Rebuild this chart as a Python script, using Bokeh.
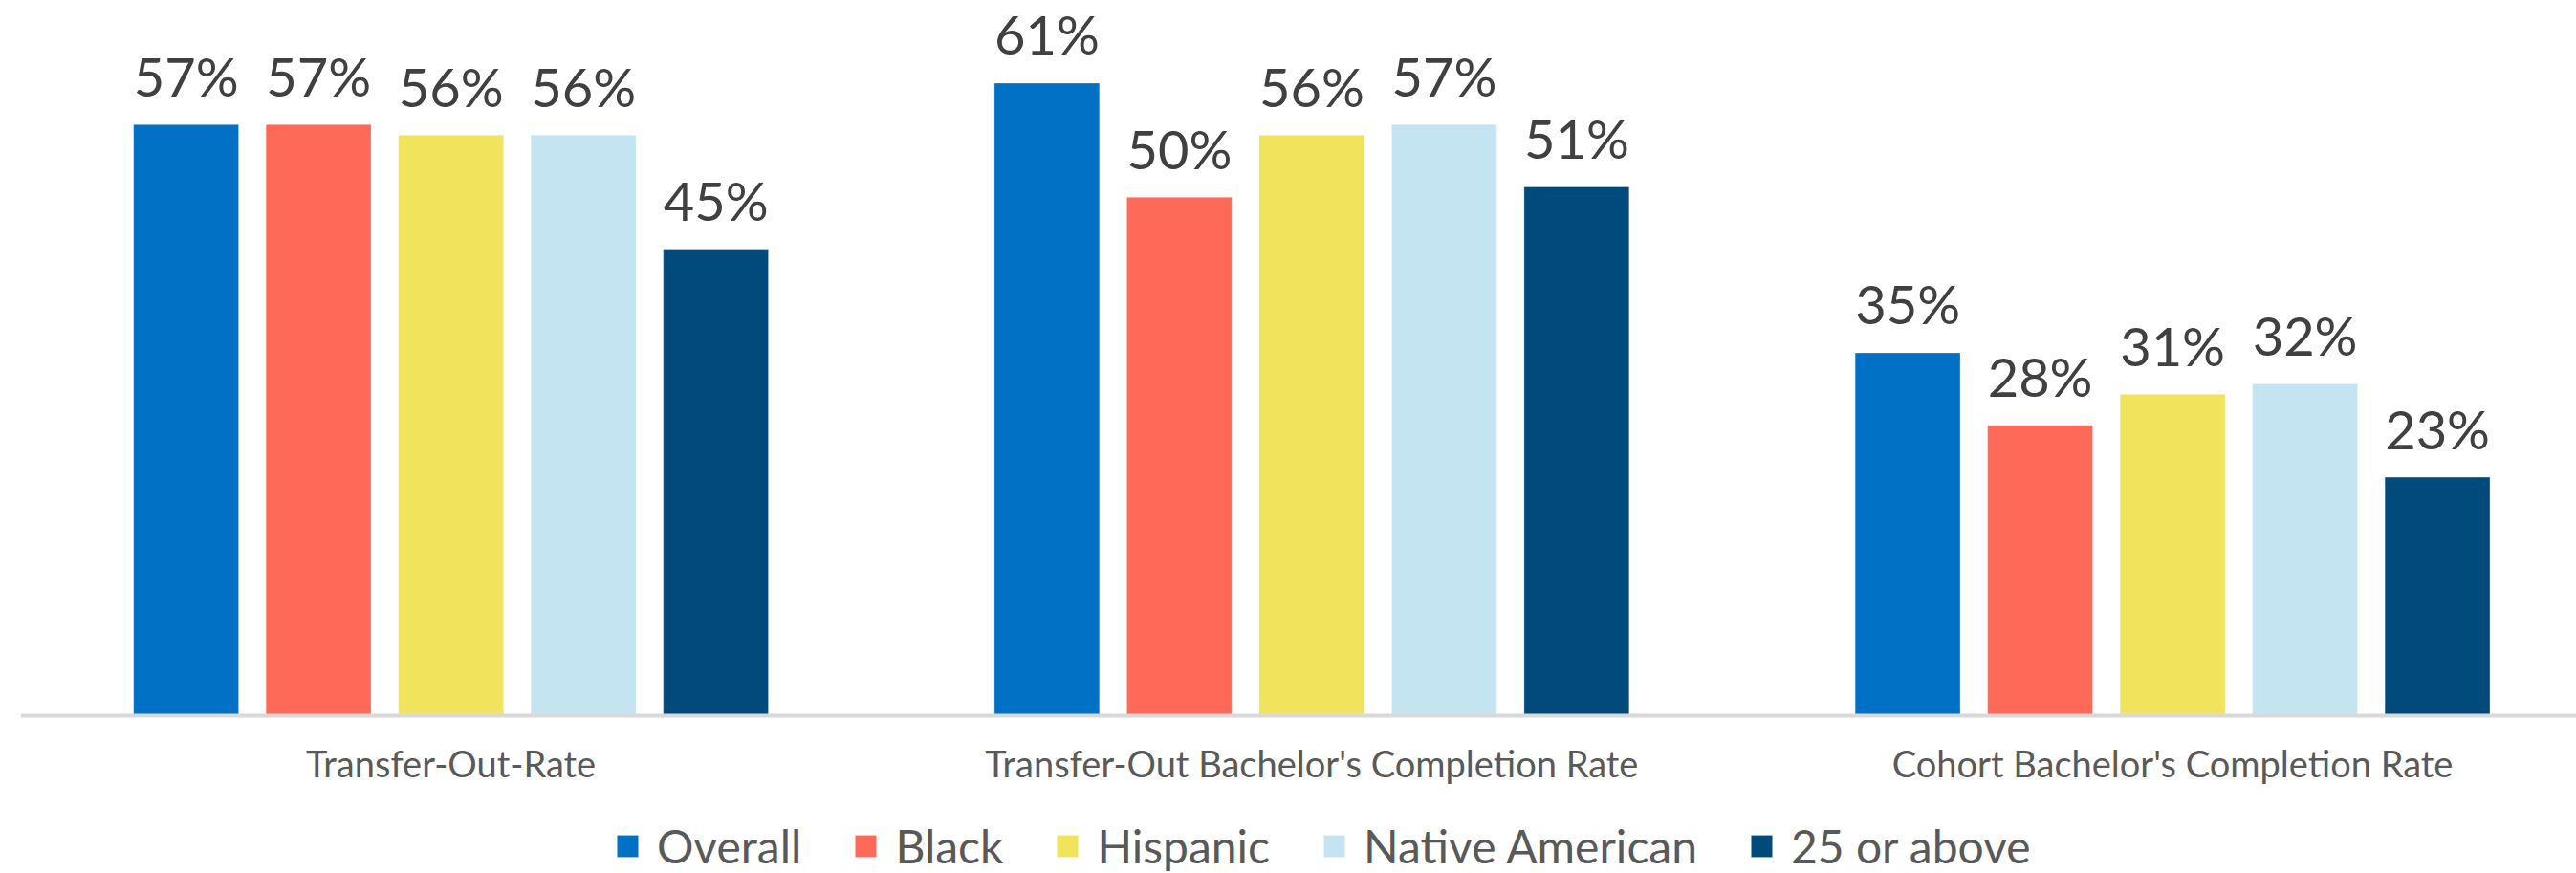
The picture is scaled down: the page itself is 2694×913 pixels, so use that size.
from bokeh.plotting import figure
from bokeh.models import ColumnDataSource, Range1d, FixedTicker, Legend, LegendItem
from bokeh.core.properties import value
from bokeh.embed import file_html
from bokeh.resources import INLINE

# ---- data ----
categories = ["Transfer-Out-Rate",
              "Transfer-Out Bachelor's Completion Rate",
              "Cohort Bachelor's Completion Rate"]
series_names = ["Overall", "Black", "Hispanic", "Native American", "25 or above"]
overall = [57, 61, 35]
black = [57, 50, 28]
hispanic = [56, 56, 31]
native_american = [56, 57, 32]
age_25_or_above = [45, 51, 23]
series_values = [overall, black, hispanic, native_american, age_25_or_above]
colors = ["#0071C5", "#FF6A58", "#F2E35C", "#C5E4F1", "#004A7C"]

FONT = "Lato"
GROUP_STEP = 6.5
BAR_WIDTH = 0.794
n_series = len(series_names)

p = figure(frame_width=2673, frame_height=905,
           x_range=Range1d(-3.25, 16.05), y_range=Range1d(-15.21, 68.23),
           output_backend="svg", toolbar_location=None,
           y_axis_location=None,
           min_border_left=21, min_border_right=0,
           min_border_top=8, min_border_bottom=0)
p.outline_line_color = None
p.grid.visible = False
p.background_fill_color = "white"
p.border_fill_color = "white"

group_centers = [i * GROUP_STEP for i in range(len(categories))]

items = []
for s, (name, vals, col) in enumerate(zip(series_names, series_values, colors)):
    xs = [gc + (s - (n_series - 1) / 2) for gc in group_centers]
    src = ColumnDataSource(dict(x=xs, top=vals,
                                label=[f"{v}%" for v in vals]))
    r = p.vbar(x="x", top="top", bottom=0, width=BAR_WIDTH, source=src,
               fill_color=col, line_color="white", line_alpha=0.35, line_width=1)
    p.text(x="x", y="top", text="label", source=src,
           text_align="center", text_baseline="alphabetic", y_offset=-51,
           text_font=value(FONT), text_font_size="56px", text_color="#404040")
    items.append(LegendItem(label=name, renderers=[r]))

xa = p.xaxis[0]
xa.fixed_location = 0
xa.ticker = FixedTicker(ticks=group_centers)
xa.major_label_overrides = {gc: c for gc, c in zip(group_centers, categories)}
xa.axis_line_color = "#d9d9d9"
xa.axis_line_width = 4
xa.major_tick_line_color = None
xa.minor_tick_line_color = None
xa.major_label_text_font = FONT
xa.major_label_text_font_size = "38px"
xa.major_label_text_color = "#595959"
xa.major_label_standoff = 20

legend = Legend(items=items, orientation="horizontal", location=(621, 0),
                label_text_font=FONT, label_text_font_size="48px",
                label_text_color="#595959",
                glyph_width=28, glyph_height=29, label_standoff=17,
                spacing=53, padding=0, margin=0,
                border_line_color=None, background_fill_alpha=0)
p.add_layout(legend, "center")

open("out.html", "w").write(file_html(p, INLINE))
